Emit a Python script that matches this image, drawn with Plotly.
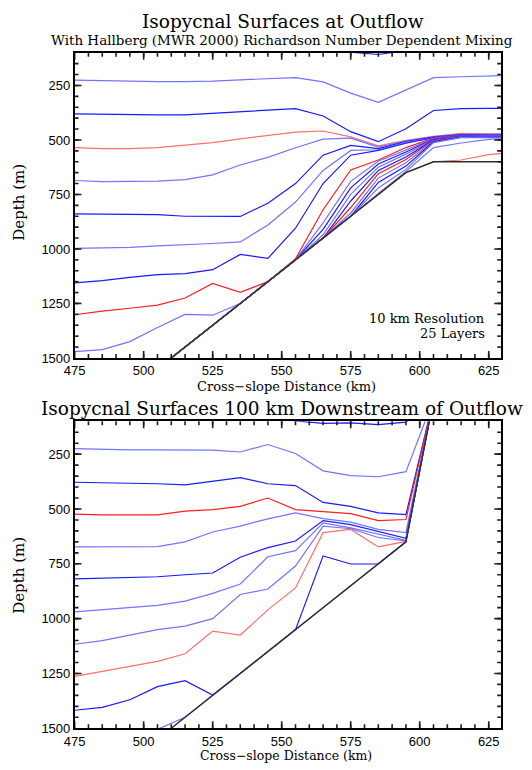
import plotly.graph_objects as go

# ---------------- data ----------------
distance_km = [475, 485, 495, 505, 515, 525, 535, 545, 555, 565, 575, 585, 595, 605, 615, 625, 635]

# Panel 1: at outflow (depth in m)
topo_outflow = [1850, 1750, 1650, 1550, 1450, 1350, 1250, 1150, 1050, 950, 850, 750, 650, 600, 600, 600, 600]
out_i02 = [85, 85, 85, 85, 85, 85, 85, 85, 88, 92, 97, 108, 90, 86, 85, 85, 85]
out_i03 = [226, 228, 232, 232, 232, 230, 224, 218, 214, 234, 285, 327, 270, 214, 210, 205, 203]
out_i04 = [380, 382, 385, 385, 385, 378, 372, 365, 356, 390, 462, 508, 449, 365, 356, 355, 355]
out_i05 = [535, 540, 540, 535, 524, 512, 495, 478, 464, 459, 486, 527, 502, 483, 470, 472, 472]
out_i06 = [686, 691, 690, 689, 682, 660, 615, 580, 536, 496, 492, 533, 505, 485, 474, 475, 475]
out_i07 = [839, 840, 841, 843, 850, 851, 851, 790, 700, 570, 525, 540, 508, 487, 476, 477, 477]
out_i08 = [997, 995, 993, 986, 982, 975, 968, 890, 785, 640, 548, 545, 511, 489, 478, 479, 479]
out_i09 = [1156, 1145, 1130, 1118, 1113, 1095, 1025, 1043, 905, 700, 570, 548, 515, 490, 479, 480, 480]
out_i10 = [1302, 1285, 1272, 1258, 1225, 1158, 1199, 1150, 1045, 820, 638, 592, 535, 492, 480, 481, 481]
out_i11 = [1471, 1462, 1425, 1360, 1300, 1304, 1250, 1150, 1050, 880, 690, 598, 545, 494, 481, 482, 482]
out_i12 = [1850, 1750, 1650, 1550, 1450, 1350, 1250, 1150, 1050, 910, 720, 610, 555, 496, 482, 483, 483]
out_i13 = [1850, 1750, 1650, 1550, 1450, 1350, 1250, 1150, 1050, 935, 750, 625, 565, 498, 483, 484, 484]
out_i14 = [1850, 1750, 1650, 1550, 1450, 1350, 1250, 1150, 1050, 950, 780, 640, 578, 500, 484, 485, 485]
out_i15 = [1850, 1750, 1650, 1550, 1450, 1350, 1250, 1150, 1050, 950, 810, 655, 590, 502, 485, 486, 486]
out_i16 = [1850, 1750, 1650, 1550, 1450, 1350, 1250, 1150, 1050, 950, 835, 675, 605, 505, 486, 487, 487]
out_i17 = [1850, 1750, 1650, 1550, 1450, 1350, 1250, 1150, 1050, 950, 850, 695, 620, 508, 487, 488, 488]
out_i18 = [1850, 1750, 1650, 1550, 1450, 1350, 1250, 1150, 1050, 950, 850, 720, 635, 512, 489, 490, 490]
out_i19 = [1850, 1750, 1650, 1550, 1450, 1350, 1250, 1150, 1050, 950, 850, 745, 645, 535, 514, 497, 492]
out_i20 = [1850, 1750, 1650, 1550, 1450, 1350, 1250, 1150, 1050, 950, 850, 750, 650, 600, 592, 567, 555]

# Panel 2: 100 km downstream (depth in m)
topo_down = [1850, 1750, 1650, 1550, 1450, 1350, 1250, 1150, 1050, 950, 850, 750, 650, 0, 0, 0, 0]
dn_i02 = [60, 60, 60, 60, 60, 60, 70, 85, 98, 110, 107, 115, 104, 0, 0, 0, 0]
dn_i03 = [225, 229, 230, 230, 230, 232, 240, 206, 247, 326, 348, 353, 330, 0, 0, 0, 0]
dn_i04 = [378, 380, 383, 385, 390, 375, 357, 385, 393, 470, 488, 518, 526, 0, 0, 0, 0]
dn_i05 = [523, 527, 527, 527, 510, 503, 488, 450, 503, 511, 521, 553, 548, 0, 0, 0, 0]
dn_i06 = [673, 673, 673, 672, 650, 605, 578, 545, 518, 544, 560, 593, 608, 0, 0, 0, 0]
dn_i07 = [819, 816, 813, 809, 800, 792, 720, 676, 646, 553, 571, 601, 634, 0, 0, 0, 0]
dn_i08 = [969, 960, 950, 940, 920, 885, 842, 718, 690, 563, 586, 616, 643, 0, 0, 0, 0]
dn_i09 = [1117, 1100, 1075, 1050, 1034, 1000, 890, 865, 760, 578, 590, 630, 645, 0, 0, 0, 0]
dn_i10 = [1263, 1240, 1215, 1195, 1160, 1057, 1075, 960, 860, 608, 593, 673, 648, 0, 0, 0, 0]
dn_i11 = [1418, 1405, 1370, 1310, 1283, 1348, 1250, 1150, 1050, 714, 751, 750, 650, 0, 0, 0, 0]
dn_i12 = [1700, 1640, 1580, 1505, 1450, 1350, 1250, 1150, 1050, 950, 850, 750, 650, 0, 0, 0, 0]

x_major_ticks = [475, 500, 525, 550, 575, 600, 625]
x_minor_ticks = list(range(480, 630, 5))
y_major_ticks = [250, 500, 750, 1000, 1250]
y_minor_ticks = list(range(150, 1500, 50))

# ---------------- styling ----------------
BLUE_D = "rgb(25,25,255)"
BLUE_L = "rgb(115,115,255)"
RED_D = "rgb(255,30,30)"
RED_L = "rgb(255,110,110)"
TOPO = "rgb(45,45,45)"

top_lines = [
    (out_i02, BLUE_D), (out_i03, BLUE_L), (out_i04, BLUE_D), (out_i05, RED_L),
    (out_i06, BLUE_L), (out_i07, BLUE_D), (out_i08, BLUE_L), (out_i09, BLUE_D),
    (out_i10, RED_D), (out_i11, BLUE_L), (out_i12, BLUE_D), (out_i13, BLUE_L),
    (out_i14, BLUE_D), (out_i15, RED_D), (out_i16, BLUE_L), (out_i17, BLUE_D),
    (out_i18, BLUE_L), (out_i19, BLUE_L), (out_i20, RED_L),
]
bot_lines = [
    (dn_i02, BLUE_D), (dn_i03, BLUE_L), (dn_i04, BLUE_D), (dn_i05, RED_D),
    (dn_i06, BLUE_L), (dn_i07, BLUE_D), (dn_i08, BLUE_L), (dn_i09, BLUE_L),
    (dn_i10, RED_L), (dn_i11, BLUE_D), (dn_i12, BLUE_L),
]

fig = go.Figure()
for vals, col in top_lines:
    fig.add_trace(go.Scatter(x=distance_km, y=vals, mode="lines", line=dict(color=col, width=1.2),
                             xaxis="x", yaxis="y", showlegend=False, hoverinfo="skip"))
fig.add_trace(go.Scatter(x=distance_km, y=topo_outflow, mode="lines", line=dict(color=TOPO, width=1.4),
                         xaxis="x", yaxis="y", showlegend=False, hoverinfo="skip"))
for vals, col in bot_lines:
    fig.add_trace(go.Scatter(x=distance_km, y=vals, mode="lines", line=dict(color=col, width=1.2),
                             xaxis="x2", yaxis="y2", showlegend=False, hoverinfo="skip"))
fig.add_trace(go.Scatter(x=distance_km, y=topo_down, mode="lines", line=dict(color=TOPO, width=1.4),
                         xaxis="x2", yaxis="y2", showlegend=False, hoverinfo="skip"))

W, H = 532, 770
xl, xr = 65, 500.5
top_t, top_b = 53.3, 361.7
bot_t, bot_b = 425.7, 735.9
pw = xr - xl

tickfont = dict(family="Liberation Sans", size=13, color="black")
CLEAR = "rgba(0,0,0,0)"

def xax(anchor):
    return dict(range=[475, 629.5], domain=[xl / W, xr / W], anchor=anchor,
                tickmode="array", tickvals=x_major_ticks, ticks="inside", ticklen=1,
                tickcolor=CLEAR, showline=True, linecolor="black", linewidth=1.5, mirror=True,
                showgrid=False, zeroline=False, tickfont=tickfont)

def yax(anchor, t, b):
    return dict(range=[1500, 100], domain=[1 - b / H, 1 - t / H], anchor=anchor,
                tickmode="array", tickvals=y_major_ticks + [1500], ticks="inside", ticklen=1,
                tickcolor=CLEAR, showline=True, linecolor="black", linewidth=1.5, mirror=True,
                showgrid=False, zeroline=False, tickfont=tickfont)

# tick marks drawn as short axis-relative segments (inside, on all four sides)
shapes = []
def add_ticks(xa, ya, ph):
    for vals, ln in ((x_major_ticks, 7), (x_minor_ticks, 4)):
        f = ln / ph
        for v in vals:
            for y0, y1 in ((0, f), (1, 1 - f)):
                shapes.append(dict(type="line", xref=xa, yref=ya + " domain", x0=v, x1=v, y0=y0, y1=y1,
                                   layer="above", line=dict(color="rgb(30,30,30)", width=1.6)))
    for vals, ln in ((y_major_ticks, 7), (y_minor_ticks, 4)):
        f = ln / pw
        for v in vals:
            for x0, x1 in ((0, f), (1, 1 - f)):
                shapes.append(dict(type="line", xref=xa + " domain", yref=ya, x0=x0, x1=x1, y0=v, y1=v,
                                   layer="above", line=dict(color="rgb(30,30,30)", width=1.6)))

add_ticks("x", "y", top_b - top_t)
add_ticks("x2", "y2", bot_b - bot_t)

serif = "DejaVu Serif"
ann = []
def add_text(txt, x, y, size, xanchor="center", angle=0):
    ann.append(dict(text=txt, x=x / W, y=1 - y / H, xref="paper", yref="paper", showarrow=False,
                    xanchor=xanchor, yanchor="middle", textangle=angle,
                    font=dict(family=serif, size=size, color="black")))

add_text("Isopycnal Surfaces at Outflow", 278, 22, 18.5)
add_text("With Hallberg (MWR 2000) Richardson Number Dependent Mixing", 276.5, 40, 13.5)
add_text("Cross\u2212slope Distance (km)", 281, 391, 13)
add_text("Depth (m)", 8, 204, 15, angle=-90)
add_text("10 km Resolution", 486, 322, 13, xanchor="right")
add_text("25 Layers", 486, 337, 13, xanchor="right")
add_text("Isopycnal Surfaces 100 km Downstream of Outflow", 277, 413, 18.5)
add_text("Cross\u2212slope Distance (km)", 281, 763, 12.5)
add_text("Depth (m)", 8, 581, 15, angle=-90)

fig.update_layout(
    width=W, height=H, margin=dict(l=0, r=0, t=0, b=0),
    paper_bgcolor="white", plot_bgcolor="white",
    xaxis=xax("y"), yaxis=yax("x", top_t, top_b),
    xaxis2=xax("y2"), yaxis2=yax("x2", bot_t, bot_b),
    annotations=ann, shapes=shapes,
)

fig.write_html("out.html")
